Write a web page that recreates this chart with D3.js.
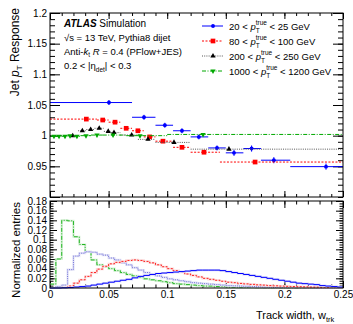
<!DOCTYPE html>
<html>
<head>
<meta charset="utf-8">
<script src="https://cdn.jsdelivr.net/npm/d3@7"></script>
<style>
  html, body { margin: 0; padding: 0; background: #fff; }
  text { font-family: "Liberation Sans", Arial, sans-serif; }
</style>
</head>
<body>
<div id="viz"></div>
<script>
// ---- data ----
// upper panel: response per track-width bin (bin edges, mean of bin, response, stat error)
const blueEdges = [0, 0.07, 0.09, 0.105, 0.12, 0.135, 0.15, 0.165, 0.18, 0.205, 0.25];
const blueMean = [0.0503, 0.0802, 0.098, 0.1126, 0.127, 0.1425, 0.157, 0.172, 0.191, 0.2355];
const blueResp = [1.054, 1.030, 1.017, 1.008, 0.998, 0.980, 0.972, 0.979, 0.960, 0.9495];
const blueErr = [0.004, 0.004, 0.004, 0.004, 0.004, 0.004, 0.005, 0.005, 0.005, 0.005];

const redEdges = [0, 0.04, 0.05, 0.06, 0.07, 0.08, 0.09, 0.105, 0.12, 0.145, 0.25];
const redMean = [0.031, 0.045, 0.0555, 0.065, 0.075, 0.085, 0.0964, 0.1126, 0.1314, 0.175];
const redResp = [1.027, 1.0255, 1.022, 1.012, 1.008, 0.998, 0.991, 0.981, 0.973, 0.957];
const redErr = [0.0015, 0.0015, 0.0015, 0.0015, 0.0015, 0.0015, 0.0015, 0.002, 0.002, 0.002];

const blackEdges = [0, 0.024, 0.031, 0.038, 0.046, 0.052, 0.06, 0.075, 0.09, 0.12, 0.25];
const blackMean = [0.0194, 0.0276, 0.0347, 0.042, 0.0497, 0.0546, 0.0697, 0.0836, 0.1058, 0.1527];
const blackResp = [1.000, 1.008, 1.010, 1.012, 1.007, 1.005, 1.001, 0.994, 0.989, 0.978];
const blackErr = [0.0015, 0.0015, 0.0015, 0.0015, 0.0015, 0.0015, 0.0015, 0.0015, 0.0015, 0.0015];

const greenEdges = [0, 0.005, 0.01, 0.015, 0.02, 0.026, 0.035, 0.045, 0.065, 0.1, 0.25];
const greenMean = [0.0034, 0.0077, 0.0128, 0.0171, 0.023, 0.0307, 0.0401, 0.0538, 0.0768, 0.1306];
const greenResp = [0.999, 0.999, 0.999, 1.0, 0.999, 1.0, 1.001, 1.001, 1.0, 1.002];
const greenErr = [0.001, 0.001, 0.001, 0.001, 0.001, 0.001, 0.001, 0.001, 0.001, 0.001];

// lower panel: normalized track-width distributions, bins of 0.005 from 0 to 0.25
const histBlue = [0, 0, 0.0005, 0.001, 0.002, 0.003, 0.004, 0.006, 0.008, 0.010,
  0.012, 0.014, 0.016, 0.018, 0.021, 0.024, 0.026, 0.028, 0.030, 0.031,
  0.032, 0.033, 0.034, 0.035, 0.036, 0.037, 0.037, 0.037, 0.037, 0.036,
  0.034, 0.032, 0.030, 0.028, 0.026, 0.024, 0.022, 0.020, 0.018, 0.016,
  0.014, 0.012, 0.010, 0.009, 0.008, 0.007, 0.005, 0.004, 0.003, 0.002];
const histRed = [0, 0, 0.001, 0.004, 0.010, 0.017, 0.024, 0.032, 0.039, 0.045,
  0.050, 0.053, 0.055, 0.057, 0.058, 0.057, 0.055, 0.052, 0.048, 0.044,
  0.040, 0.036, 0.033, 0.029, 0.026, 0.023, 0.020, 0.018, 0.016, 0.014,
  0.012, 0.011, 0.0095, 0.0085, 0.0075, 0.0065, 0.006, 0.005, 0.0045, 0.004,
  0.0035, 0.003, 0.0027, 0.0024, 0.002, 0.0018, 0.0015, 0.0012, 0.001, 0.001];
const histBlack = [0, 0.003, 0.006, 0.038, 0.066, 0.072, 0.075, 0.074, 0.070, 0.068,
  0.062, 0.058, 0.052, 0.048, 0.042, 0.037, 0.032, 0.028, 0.025, 0.022,
  0.019, 0.017, 0.015, 0.013, 0.011, 0.010, 0.009, 0.008, 0.007, 0.006,
  0.005, 0.0045, 0.004, 0.0035, 0.003, 0.0025, 0.002, 0.002, 0.0015, 0.0015,
  0.001, 0.001, 0.001, 0.0008, 0.0006, 0.0005, 0.0004, 0.0003, 0.0002, 0.0001];
const histGreen = [0.008, 0.060, 0.140, 0.139, 0.106, 0.090, 0.075, 0.058, 0.048, 0.044,
  0.040, 0.036, 0.032, 0.028, 0.025, 0.022, 0.019, 0.017, 0.015, 0.013,
  0.011, 0.009, 0.008, 0.007, 0.006, 0.005, 0.004, 0.004, 0.003, 0.003,
  0.002, 0.002, 0.0015, 0.001, 0.001, 0.0008, 0.0006, 0.0005, 0.0004, 0.0003,
  0.0002, 0.0002, 0.0001, 0.0001, 0, 0, 0, 0, 0, 0];

const legendLow = ["20", "80", "200", "1000"];
const legendHigh = ["25", "100", "250", "1200"];
const respTicks = [0.95, 1, 1.05, 1.1, 1.15, 1.2];
const histTicks = [0, 0.02, 0.04, 0.06, 0.08, 0.1, 0.12, 0.14, 0.16, 0.18];
const widthTicks = [0, 0.05, 0.1, 0.15, 0.2, 0.25];

// ---- setup ----
const W = 353, H = 324;
const svg = d3.select("#viz").append("svg")
    .attr("width", W)
    .attr("height", H);

const x = d3.scaleLinear().domain([0, 0.25]).range([50, 343]);
const yR = d3.scaleLinear().domain([0.9, 1.2]).range([197, 13]);
const yN = d3.scaleLinear().domain([0, 0.18]).range([288, 201]);

const fmt = (d) => String(+d.toFixed(3));

// ticks inside the frame, ROOT style
function tickAxis(axisFn, scale, tr, vals, size, labels) {
    const a = axisFn(scale).tickValues(vals).tickSize(-size).tickPadding(3)
        .tickFormat(labels ? fmt : "");
    svg.append("g")
        .attr("transform", tr)
        .attr("font-size", 10.5)
        .attr("font-family", "Liberation Sans, Arial, sans-serif")
        .call(a)
        .call((g) => g.select(".domain").remove())
        .call((g) => g.selectAll("line").attr("stroke", "#000"))
        .call((g) => g.selectAll("text").attr("fill", "#000"));
}

const minorR = d3.range(0.9, 1.2001, 0.01).map((d) => +d.toFixed(3));
const minorX = d3.range(0, 0.2501, 0.01).map((d) => +d.toFixed(3));
const minorN = d3.range(0, 0.1801, 0.005).map((d) => +d.toFixed(4));

// upper pad axes
tickAxis(d3.axisLeft, yR, "translate(50,0)", respTicks.concat([0.9]), 10, false);
tickAxis(d3.axisLeft, yR, "translate(50,0)", respTicks, 0, true);
tickAxis(d3.axisLeft, yR, "translate(50,0)", minorR, 5, false);
tickAxis(d3.axisRight, yR, "translate(343,0)", respTicks, 10, false);
tickAxis(d3.axisRight, yR, "translate(343,0)", minorR, 5, false);
tickAxis(d3.axisBottom, x, "translate(0,197)", widthTicks, 6, false);
tickAxis(d3.axisBottom, x, "translate(0,197)", minorX, 3, false);
tickAxis(d3.axisTop, x, "translate(0,13)", widthTicks, 6, false);
tickAxis(d3.axisTop, x, "translate(0,13)", minorX, 3, false);

// lower pad axes
tickAxis(d3.axisLeft, yN, "translate(50,0)", histTicks, 7, true);
tickAxis(d3.axisLeft, yN, "translate(50,0)", minorN, 3.5, false);
tickAxis(d3.axisRight, yN, "translate(343,0)", histTicks, 7, false);
tickAxis(d3.axisRight, yN, "translate(343,0)", minorN, 3.5, false);
tickAxis(d3.axisBottom, x, "translate(0,288)", widthTicks, 7, true);
tickAxis(d3.axisBottom, x, "translate(0,288)", minorX, 3.5, false);
tickAxis(d3.axisTop, x, "translate(0,201)", widthTicks, 7, false);
tickAxis(d3.axisTop, x, "translate(0,201)", minorX, 3.5, false);

// styles for the four pT ranges
const styles = [
    { color: "#0000ff", line: "#0000ff", dash: null, sym: d3.symbolCircle, size: 12, rot: 0 },
    { color: "#ff0000", line: "#ff0000", dash: "2,1.5", sym: d3.symbolSquare, size: 22, rot: 0 },
    { color: "#000000", line: "#555555", dash: "1,1.2", sym: d3.symbolTriangle, size: 12, rot: 0 },
    { color: "#00a800", line: "#00a800", dash: "4,1.5,1,1.5", sym: d3.symbolTriangle, size: 12, rot: 180 }
];

// ---- upper pad: response points ----
const upper = svg.append("g");
function drawResp(edges, mean, resp, err, st) {
    const g = upper.append("g");
    g.selectAll(null).data(resp).enter().append("line")
        .attr("x1", (d, i) => x(edges[i]))
        .attr("x2", (d, i) => x(edges[i + 1]))
        .attr("y1", (d) => yR(d))
        .attr("y2", (d) => yR(d))
        .attr("stroke", st.line)
        .attr("stroke-width", 1)
        .attr("stroke-dasharray", st.dash);
    g.selectAll(null).data(resp).enter().append("line")
        .attr("x1", (d, i) => x(mean[i]))
        .attr("x2", (d, i) => x(mean[i]))
        .attr("y1", (d, i) => yR(d - err[i]))
        .attr("y2", (d, i) => yR(d + err[i]))
        .attr("stroke", st.color)
        .attr("stroke-width", 1);
    g.selectAll(null).data(resp).enter().append("path")
        .attr("d", d3.symbol().type(st.sym).size(st.size))
        .attr("transform", (d, i) => `translate(${x(mean[i])},${yR(d)}) rotate(${st.rot})`)
        .attr("fill", st.color);
}
drawResp(blueEdges, blueMean, blueResp, blueErr, styles[0]);
drawResp(redEdges, redMean, redResp, redErr, styles[1]);
drawResp(blackEdges, blackMean, blackResp, blackErr, styles[2]);
drawResp(greenEdges, greenMean, greenResp, greenErr, styles[3]);

// ---- lower pad: histograms ----
const histEdges = d3.range(0, 51).map((i) => i * 0.005);
const histStyles = [
    { vals: histGreen, color: "#22b522", halo: "#d6f0d6", dash: "4,1.5,1,1.5" },
    { vals: histBlack, color: "#6f6fd8", halo: "#e2e2f6", dash: "1,1.2" },
    { vals: histRed, color: "#ff2020", halo: "#fadcdc", dash: "2,1.5" },
    { vals: histBlue, color: "#0000ff", halo: "#dcdcf8", dash: null }
];
const step = d3.line()
    .x((d) => x(d[0]))
    .y((d) => yN(d[1]))
    .curve(d3.curveStepAfter);
histStyles.forEach((h) => {
    const pts = h.vals.map((v, i) => [histEdges[i], v]);
    pts.push([0.25, h.vals[h.vals.length - 1]]);
    svg.append("path").datum(pts)
        .attr("d", step).attr("fill", "none")
        .attr("stroke", h.halo).attr("stroke-width", 2.2);
    svg.append("path").datum(pts)
        .attr("d", step).attr("fill", "none")
        .attr("stroke", h.color).attr("stroke-width", 1)
        .attr("stroke-dasharray", h.dash);
});

// frames
svg.append("rect").attr("x", 50).attr("y", 13).attr("width", 293).attr("height", 184)
    .attr("fill", "none").attr("stroke", "#000");
svg.append("rect").attr("x", 50).attr("y", 201).attr("width", 293).attr("height", 87)
    .attr("fill", "none").attr("stroke", "#000");

// ---- labels ----
const ytitle = svg.append("text")
    .attr("transform", "translate(19,8) rotate(-90)")
    .attr("text-anchor", "end")
    .attr("font-size", 12);
ytitle.append("tspan").text("Jet ");
ytitle.append("tspan").attr("font-style", "italic").text("p");
ytitle.append("tspan").attr("font-size", 8).attr("dy", 3).text("T");
ytitle.append("tspan").attr("dy", -3).text(" Response");

svg.append("text")
    .attr("transform", "translate(19.5,202) rotate(-90)")
    .attr("text-anchor", "end")
    .attr("font-size", 11.5)
    .text("Normalized entries");

const xtitle = svg.append("text")
    .attr("x", 256).attr("y", 319)
    .attr("font-size", 11);
xtitle.append("tspan").text("Track width, w");
xtitle.append("tspan").attr("font-size", 7.5).attr("dy", 2.5).text("trk");

// ATLAS block
const t1 = svg.append("text").attr("x", 64).attr("y", 27).attr("font-size", 10);
t1.append("tspan").attr("font-weight", "bold").attr("font-style", "italic").text("ATLAS");
t1.append("tspan").text(" Simulation");
svg.append("text").attr("x", 64).attr("y", 41).attr("font-size", 9.5)
    .text("\u221As = 13 TeV, Pythia8 dijet");
const t3 = svg.append("text").attr("x", 64).attr("y", 55).attr("font-size", 9.5);
t3.append("tspan").text("Anti-");
t3.append("tspan").attr("font-style", "italic").text("k");
t3.append("tspan").attr("font-size", 6.5).attr("dy", 2).text("t");
t3.append("tspan").attr("dy", -2).text(" ");
t3.append("tspan").attr("font-style", "italic").text("R");
t3.append("tspan").text(" = 0.4 (PFlow+JES)");
const t4 = svg.append("text").attr("x", 64).attr("y", 69).attr("font-size", 9.5);
t4.append("tspan").text("0.2 < |\u03B7");
t4.append("tspan").attr("font-size", 6.5).attr("dy", 3).text("det");
t4.append("tspan").attr("dy", -3).text("| < 0.3");

// legend
const legY = [26, 41, 56, 71];
styles.forEach((st, i) => {
    svg.append("line")
        .attr("x1", 202).attr("x2", 223).attr("y1", legY[i]).attr("y2", legY[i])
        .attr("stroke", st.line).attr("stroke-dasharray", st.dash);
    svg.append("path")
        .attr("d", d3.symbol().type(st.sym).size(st.size))
        .attr("transform", `translate(213,${legY[i]}) rotate(${st.rot})`)
        .attr("fill", st.color);
    const t = svg.append("text").attr("x", 229).attr("y", legY[i] + 3.5).attr("font-size", 9.5);
    t.append("tspan").text(legendLow[i] + " < ");
    t.append("tspan").attr("font-style", "italic").text("p");
    t.append("tspan").attr("font-size", 6.5).attr("dy", 3).text("T");
    t.append("tspan").attr("font-size", 6.5).attr("dx", -4).attr("dy", -7.5).text("true");
    t.append("tspan").attr("dy", 4.5).text(" < " + legendHigh[i] + " GeV");
});
</script>
</body>
</html>
